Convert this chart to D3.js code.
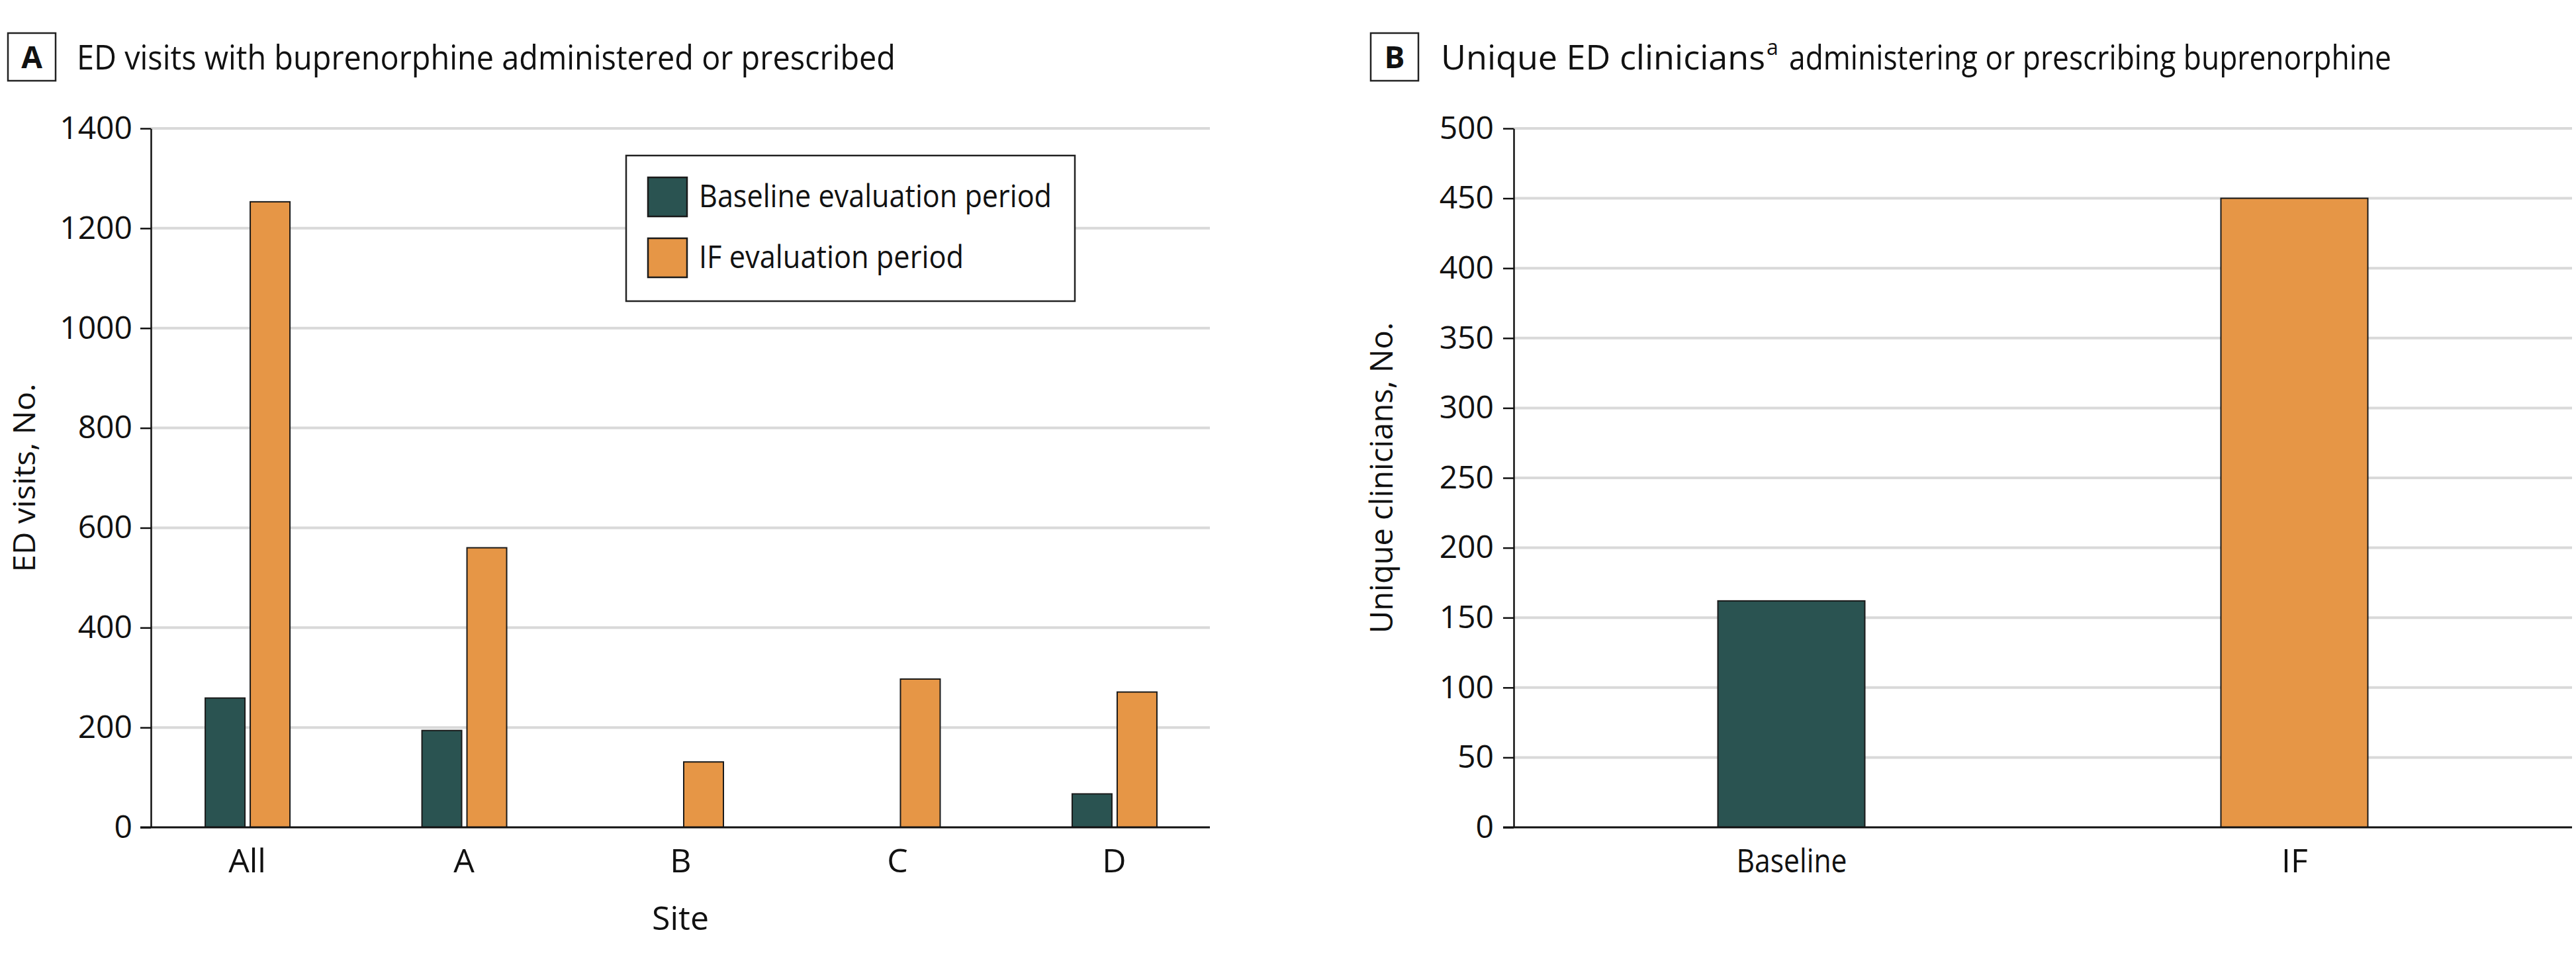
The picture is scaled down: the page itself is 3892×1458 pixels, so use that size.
<!DOCTYPE html>
<html>
<head>
<meta charset="utf-8">
<script src="https://cdn.jsdelivr.net/npm/d3@7"></script>
<style>
  html, body { margin: 0; padding: 0; background: #ffffff; }
  svg { display: block; }
  text { font-family: "Open Sans", "Noto Sans", "Liberation Sans", sans-serif; fill: #111; }
</style>
</head>
<body>
<svg id="chart" width="3892" height="1458"></svg>
<script>
// ---------------- data ----------------
const sites = ["All", "A", "B", "C", "D"];
const baselineVisits = [259, 194, 0, 0, 67];
const ifVisits = [1253, 560, 131, 297, 271];
const seriesNames = ["Baseline evaluation period", "IF evaluation period"];
const visitTicks = [0, 200, 400, 600, 800, 1000, 1200, 1400];

const periods = ["Baseline", "IF"];
const clinicians = [162, 450];
const clinicianTicks = [0, 50, 100, 150, 200, 250, 300, 350, 400, 450, 500];

const panelATitle = "ED visits with buprenorphine administered or prescribed";
const panelBTitleMain = "Unique ED clinicians";
const panelBTitleSup = "a";
const panelBTitleRest = "administering or prescribing buprenorphine";
const panelAYLabel = "ED visits, No.";
const panelBYLabel = "Unique clinicians, No.";
const panelAXLabel = "Site";

// ---------------- style ----------------
const colors = ["#2a5351", "#e69646"];
const gridColor = "#d9d9d9";
const barStroke = "#1a1a1a";
const fmt = d3.format("d");

const svg = d3.select("#chart");

function panelLabel(x, letter) {
  const g = svg.append("g");
  g.append("rect").attr("x", x).attr("y", 50).attr("width", 72).attr("height", 72)
    .attr("fill", "#fff").attr("stroke", "#222").attr("stroke-width", 2.5);
  g.append("text").attr("x", x + 36).attr("y", 103).attr("text-anchor", "middle")
    .attr("font-size", 46).attr("font-weight", 700).text(letter);
}

function gridLines(g, y, ticks, x0, x1) {
  g.append("g").selectAll("line").data(ticks.filter(t => t !== 0)).join("line")
    .attr("x1", x0).attr("x2", x1)
    .attr("y1", d => y(d)).attr("y2", d => y(d))
    .attr("stroke", gridColor).attr("stroke-width", 4);
}

function styleYAxis(axisG) {
  axisG.select(".domain").attr("stroke", "#111").attr("stroke-width", 2.5);
  axisG.selectAll(".tick line").attr("stroke", "#111").attr("stroke-width", 2.5);
  axisG.selectAll(".tick text").attr("font-size", 48).attr("fill", "#111")
    .style("font-family", "'Open Sans', 'Noto Sans', sans-serif");
}

// ================= Panel A =================
const ax0 = 228, ax1 = 1828, yTop = 194, yBot = 1250;
const xA = d3.scalePoint().domain(sites).range([ax0, ax1]).padding(0.443);
const xSub = d3.scaleBand().domain(seriesNames).range([-63, 65]).paddingInner(0.1176);
const yA = d3.scaleLinear().domain([0, 1400]).range([yBot, yTop]);

panelLabel(12, "A");
svg.append("text").attr("x", 116).attr("y", 105).attr("font-size", 52)
  .attr("textLength", 1237).attr("lengthAdjust", "spacingAndGlyphs").text(panelATitle);

const gA = svg.append("g");
gridLines(gA, yA, visitTicks, ax0, ax1);

const dataA = [];
sites.forEach((s, i) => {
  dataA.push({ site: s, series: seriesNames[0], value: baselineVisits[i], c: colors[0] });
  dataA.push({ site: s, series: seriesNames[1], value: ifVisits[i], c: colors[1] });
});
gA.append("g").selectAll("rect").data(dataA.filter(d => d.value > 0)).join("rect")
  .attr("x", d => xA(d.site) + xSub(d.series))
  .attr("width", xSub.bandwidth())
  .attr("y", d => yA(d.value))
  .attr("height", d => yA(0) - yA(d.value))
  .attr("fill", d => d.c).attr("stroke", barStroke).attr("stroke-width", 2);

const yAxisA = gA.append("g").attr("transform", `translate(${ax0},0)`)
  .call(d3.axisLeft(yA).tickValues(visitTicks).tickFormat(fmt).tickSize(16).tickPadding(12).tickSizeOuter(0));
styleYAxis(yAxisA);

const xAxisA = gA.append("g").attr("transform", `translate(0,${yBot})`)
  .call(d3.axisBottom(xA).tickSize(0).tickPadding(0));
xAxisA.select(".domain").remove();
xAxisA.selectAll(".tick text").attr("y", 68).attr("dy", 0).attr("font-size", 50).attr("fill", "#111")
  .style("font-family", "'Open Sans', 'Noto Sans', sans-serif");
gA.append("line").attr("x1", ax0 - 16).attr("x2", ax1).attr("y1", yBot).attr("y2", yBot)
  .attr("stroke", "#111").attr("stroke-width", 3);

svg.append("text").attr("transform", `translate(53,722) rotate(-90)`).attr("text-anchor", "middle")
  .attr("font-size", 46).attr("textLength", 285).attr("lengthAdjust", "spacingAndGlyphs").text(panelAYLabel);
svg.append("text").attr("x", (ax0 + ax1) / 2).attr("y", 1405).attr("text-anchor", "middle")
  .attr("font-size", 50).text(panelAXLabel);

// legend
const leg = svg.append("g");
leg.append("rect").attr("x", 946).attr("y", 235).attr("width", 678).attr("height", 220)
  .attr("fill", "#fff").attr("stroke", "#222").attr("stroke-width", 2.5);
const legTextW = [533, 400];
seriesNames.forEach((name, i) => {
  const yy = 268 + i * 92;
  leg.append("rect").attr("x", 979).attr("y", yy).attr("width", 59).attr("height", 59)
    .attr("fill", colors[i]).attr("stroke", barStroke).attr("stroke-width", 2.5);
  leg.append("text").attr("x", 1056).attr("y", yy + 45).attr("font-size", 48)
    .attr("textLength", legTextW[i]).attr("lengthAdjust", "spacingAndGlyphs").text(name);
});

// ================= Panel B =================
const bx0 = 2287, bx1 = 3886;
const xB = d3.scalePoint().domain(periods).range([bx0, bx1]).padding(0.552);
const yB = d3.scaleLinear().domain([0, 500]).range([yBot, yTop]);
const barWB = 222;

panelLabel(2071, "B");
// title split into pieces so the superscript does not overlap the main text
const t1 = svg.append("text").attr("x", 2177).attr("y", 105).attr("font-size", 52)
  .attr("textLength", 490).attr("lengthAdjust", "spacingAndGlyphs").text(panelBTitleMain);
svg.append("text").attr("x", 2669).attr("y", 83).attr("font-size", 32).text(panelBTitleSup);
svg.append("text").attr("x", 2703).attr("y", 105).attr("font-size", 52)
  .attr("textLength", 910).attr("lengthAdjust", "spacingAndGlyphs").text(panelBTitleRest);

const gB = svg.append("g");
gridLines(gB, yB, clinicianTicks, bx0, bx1);

gB.append("g").selectAll("rect").data(periods.map((p, i) => ({ p, v: clinicians[i], c: colors[i] }))).join("rect")
  .attr("x", d => xB(d.p) - barWB / 2)
  .attr("width", barWB)
  .attr("y", d => yB(d.v))
  .attr("height", d => yB(0) - yB(d.v))
  .attr("fill", d => d.c).attr("stroke", barStroke).attr("stroke-width", 2);

const yAxisB = gB.append("g").attr("transform", `translate(${bx0},0)`)
  .call(d3.axisLeft(yB).tickValues(clinicianTicks).tickFormat(fmt).tickSize(16).tickPadding(14).tickSizeOuter(0));
styleYAxis(yAxisB);

const xAxisB = gB.append("g").attr("transform", `translate(0,${yBot})`)
  .call(d3.axisBottom(xB).tickSize(0).tickPadding(0));
xAxisB.select(".domain").remove();
xAxisB.selectAll(".tick text").attr("y", 68).attr("dy", 0).attr("font-size", 50).attr("fill", "#111")
  .style("font-family", "'Open Sans', 'Noto Sans', sans-serif")
  .each(function (d) { if (d === "Baseline") d3.select(this).attr("textLength", 167).attr("lengthAdjust", "spacingAndGlyphs"); });
gB.append("line").attr("x1", bx0 - 16).attr("x2", bx1).attr("y1", yBot).attr("y2", yBot)
  .attr("stroke", "#111").attr("stroke-width", 3);

svg.append("text").attr("transform", `translate(2104,722) rotate(-90)`).attr("text-anchor", "middle")
  .attr("font-size", 48).attr("textLength", 470).attr("lengthAdjust", "spacingAndGlyphs").text(panelBYLabel);
</script>
</body>
</html>
